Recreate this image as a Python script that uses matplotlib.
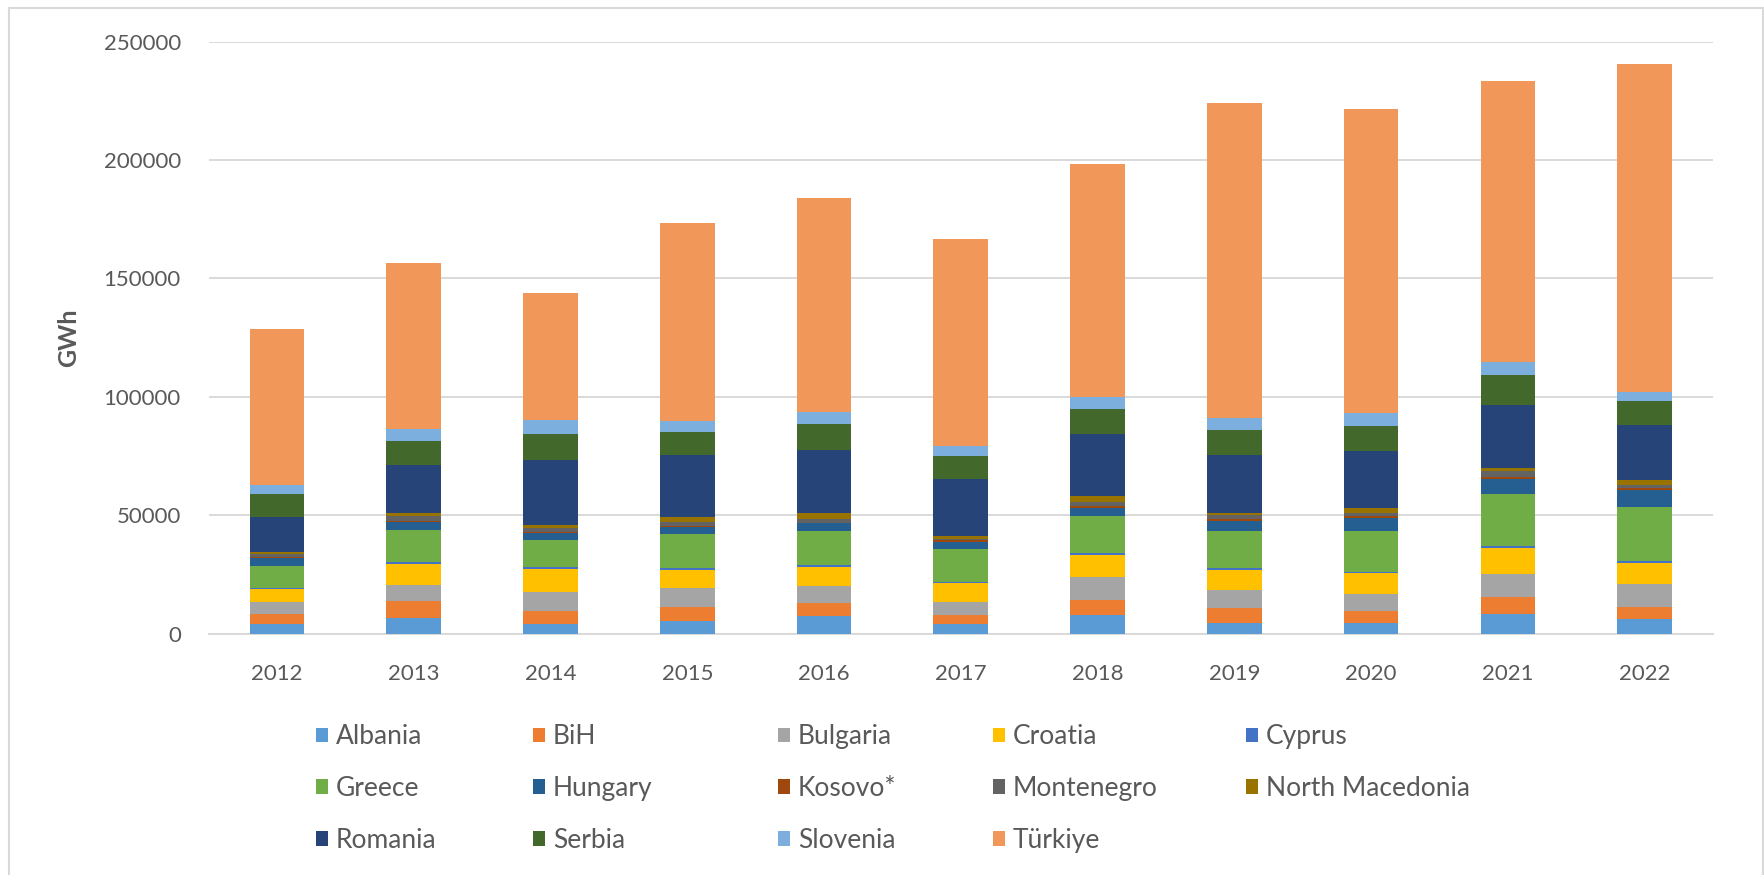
import matplotlib
matplotlib.use("Agg")
import matplotlib.pyplot as plt
from matplotlib.patches import Rectangle
import numpy as np

years = ["2012", "2013", "2014", "2015", "2016", "2017", "2018", "2019", "2020", "2021", "2022"]

countries = ["Albania", "BiH", "Bulgaria", "Croatia", "Cyprus",
             "Greece", "Hungary", "Kosovo*", "Montenegro", "North Macedonia",
             "Romania", "Serbia", "Slovenia", "Türkiye"]

albania = [3900, 6600, 3900, 5200, 7200, 3900, 7700, 4400, 4400, 8300, 6300]
bih = [4500, 7000, 5800, 5800, 5800, 3800, 6500, 6300, 5100, 7000, 5100]
bulgaria = [5100, 6800, 7700, 8300, 7000, 5800, 9600, 7600, 7000, 10000, 9600]
croatia = [5100, 9000, 10000, 7600, 8200, 7700, 9400, 8400, 8900, 10800, 8700]
cyprus = [600, 600, 600, 600, 600, 600, 800, 800, 700, 800, 1000]
greece = [9300, 13900, 11400, 14600, 14600, 13900, 15700, 15700, 17000, 22100, 22700]
hungary = [3400, 3200, 3200, 3100, 3100, 3100, 3500, 4200, 5900, 6300, 7300]
kosovo = [300, 300, 300, 300, 300, 500, 800, 800, 800, 800, 800]
montenegro = [1200, 2200, 1700, 1700, 1700, 800, 1700, 1800, 1100, 2400, 1100]
north_macedonia = [1200, 1300, 1300, 2000, 2500, 1100, 2500, 1100, 2100, 1400, 2100]
romania = [14800, 20400, 27400, 26000, 26600, 24100, 26000, 24200, 24200, 26800, 23500]
serbia = [9500, 10100, 10800, 10100, 10800, 9600, 10800, 10800, 10300, 12700, 10100]
slovenia = [3900, 5200, 6300, 4600, 5100, 4500, 4900, 5100, 5600, 5100, 3900]
turkiye = [65900, 70000, 53300, 83700, 90500, 87100, 98300, 132700, 128500, 118900, 138500]

series = [albania, bih, bulgaria, croatia, cyprus, greece, hungary, kosovo,
          montenegro, north_macedonia, romania, serbia, slovenia, turkiye]

colors = ["#5B9BD5", "#ED7D31", "#A5A5A5", "#FFC000", "#4472C4",
          "#70AD47", "#255E91", "#9E480E", "#636363", "#997300",
          "#264478", "#43682B", "#7CAFDD", "#F1975A"]

yticks = [0, 50000, 100000, 150000, 200000, 250000]

W, H = 1764, 875
fig = plt.figure(figsize=(W / 100, H / 100), dpi=100)
font = ["Lato", "DejaVu Sans"]
plt.rcParams['font.family'] = font

ax = fig.add_axes([208.6 / W, 1 - 633.5 / H, (1713 - 208.6) / W, (633.5 - 41.7) / H])

x = np.arange(len(years))
bottom = np.zeros(len(years))
containers = []
for name, vals, col in zip(countries, series, colors):
    v = np.array(vals, dtype=float)
    c = ax.bar(x, v, width=0.4, bottom=bottom, color=col, label=name, zorder=3)
    containers.append(c)
    bottom += v

ax.set_xlim(-0.5, len(years) - 0.5)
ax.set_ylim(0, 250000)
ax.set_yticks(yticks)
ax.set_yticklabels([str(t) for t in yticks])
ax.set_xticks(x)
ax.set_xticklabels(years)
ax.grid(axis="y", color="#D9D9D9", linewidth=1.4, zorder=0)
for s in ["top", "right", "left"]:
    ax.spines[s].set_visible(False)
ax.spines["bottom"].set_color("#D9D9D9")
ax.spines["bottom"].set_linewidth(1.4)
ax.tick_params(axis="both", length=0, colors="#595959", labelsize=16)
ax.tick_params(axis="y", pad=20)
ax.tick_params(axis="x", pad=22)
ax.set_ylabel("GWh", fontsize=18, fontweight="bold", color="#595959")
ax.yaxis.set_label_coords((80 - 208.6) / (1713 - 208.6), 0.5)

# legend: 5 columns, placed individually
col_x = [316, 533, 778, 993, 1246]
for ci in range(5):
    idx = [ci + 5 * r for r in range(3) if ci + 5 * r < len(countries)]
    handles = [containers[i] for i in idx]
    labels = [countries[i] for i in idx]
    fig.legend(handles, labels, loc="upper left",
               bbox_to_anchor=(col_x[ci] / W, 1 - 724 / H),
               frameon=False, fontsize=19, labelcolor="#595959",
               handlelength=0.45, handleheight=0.45, handletextpad=0.3,
               labelspacing=1.02, borderpad=0, borderaxespad=0)

# chart area border
fig.patches.append(Rectangle((9 / W, -0.02), (1763 - 9) / W, 1 - 8 / H + 0.02,
                             transform=fig.transFigure, fill=False,
                             edgecolor="#D9D9D9", linewidth=1.5))

fig.savefig("out.png", dpi=100, facecolor="white")
